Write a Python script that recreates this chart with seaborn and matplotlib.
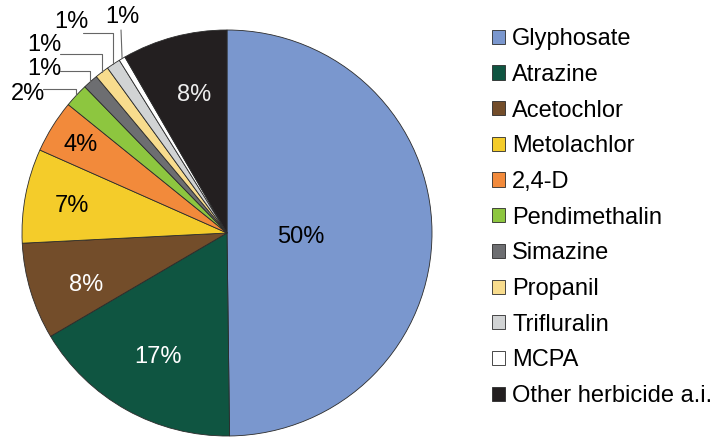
import matplotlib.pyplot as plt
import numpy as np
import seaborn as sns

# Données (parts des substances actives herbicides)
herbicides = ['Glyphosate', 'Atrazine', 'Acetochlor', 'Metolachlor', '2,4-D',
              'Pendimethalin', 'Simazine', 'Propanil', 'Trifluralin', 'MCPA',
              'Other herbicide a.i.']
shares = [49.8, 16.7, 7.7, 7.5, 4.2, 1.9, 1.2, 1.1, 1.1, 0.5, 8.3]
pct_labels = ['50%', '17%', '8%', '7%', '4%', '2%', '1%', '1%', '1%', '1%', '8%']
colors = ['#7A97CE', '#0F5541', '#734D2A', '#F4CC2A', '#F28A3B', '#8DC63F',
          '#6D6E71', '#F8DC8D', '#D1D3D4', '#FFFFFF', '#231F20']

sns.set_theme(style='white')
plt.rcParams['font.family'] = ['Liberation Sans', 'DejaVu Sans']
plt.rcParams['text.color'] = 'black'
FS = 17

fig = plt.figure(figsize=(7.13, 4.37), dpi=100)
ax = fig.add_axes([22 / 713, 1 / 437, 410 / 713, 406 / 437])
wedges, _ = ax.pie(shares, colors=sns.color_palette(colors), startangle=90,
                   counterclock=False,
                   wedgeprops=dict(edgecolor='#2b2b2b', linewidth=0.6))
ax.set_aspect('auto')
ax.set_xlim(-1, 1)
ax.set_ylim(-1, 1)
ax.axis('off')
for w in wedges:
    w.set_clip_on(False)

# étiquettes à l'intérieur des parts (rayon, décalage angulaire)
inner_r = [0.36, 0.69, 0.73, 0.77, 0.84, None, None, None, None, None, 0.71]
inner_dang = [-2, 0, 3, 0, 0, 0, 0, 0, 0, 0, -2]
inner_col = ['black', 'white', 'white', 'black', 'black', None, None, None,
             None, None, '#eeeeee']
for w, lab, r, da, c in zip(wedges, pct_labels, inner_r, inner_dang, inner_col):
    if r is None:
        continue
    ang = np.deg2rad((w.theta1 + w.theta2) / 2 + da)
    ax.text(r * np.cos(ang), r * np.sin(ang) - 0.01, lab, ha='center',
            va='center', fontsize=FS, color=c)

# étiquettes extérieures avec traits de rappel
outer = {
    5: ((-0.971, 0.685), (-0.898, 0.709)),
    6: ((-0.893, 0.810), (-0.815, 0.798)),
    7: ((-0.893, 0.924), (-0.815, 0.882)),
    8: ((-0.759, 1.037), (-0.702, 0.985)),
    9: ((-0.510, 1.062), (-0.517, 1.000)),
}
for i, ((tx, ty), (lx, ly)) in outer.items():
    w = wedges[i]
    ang = np.deg2rad((w.theta1 + w.theta2) / 2)
    ax.text(tx, ty, pct_labels[i], ha='center', va='center', fontsize=FS,
            color='black')
    style = 'arc3' if i == 9 else 'angle,angleA=0,angleB=90'
    ax.annotate('', xy=(np.cos(ang), np.sin(ang)), xytext=(lx, ly),
                arrowprops=dict(arrowstyle='-', color='#666666', lw=0.8,
                                connectionstyle=style, shrinkA=0, shrinkB=0),
                annotation_clip=False)

fig.legend(wedges, herbicides, loc='center left',
           bbox_to_anchor=(492 / 713, 0.502), frameon=False, fontsize=FS,
           handlelength=0.55, handleheight=0.55, handletextpad=0.3,
           labelspacing=0.58, borderpad=0, borderaxespad=0,
           labelcolor='black')

fig.savefig('out.png', dpi=100)
